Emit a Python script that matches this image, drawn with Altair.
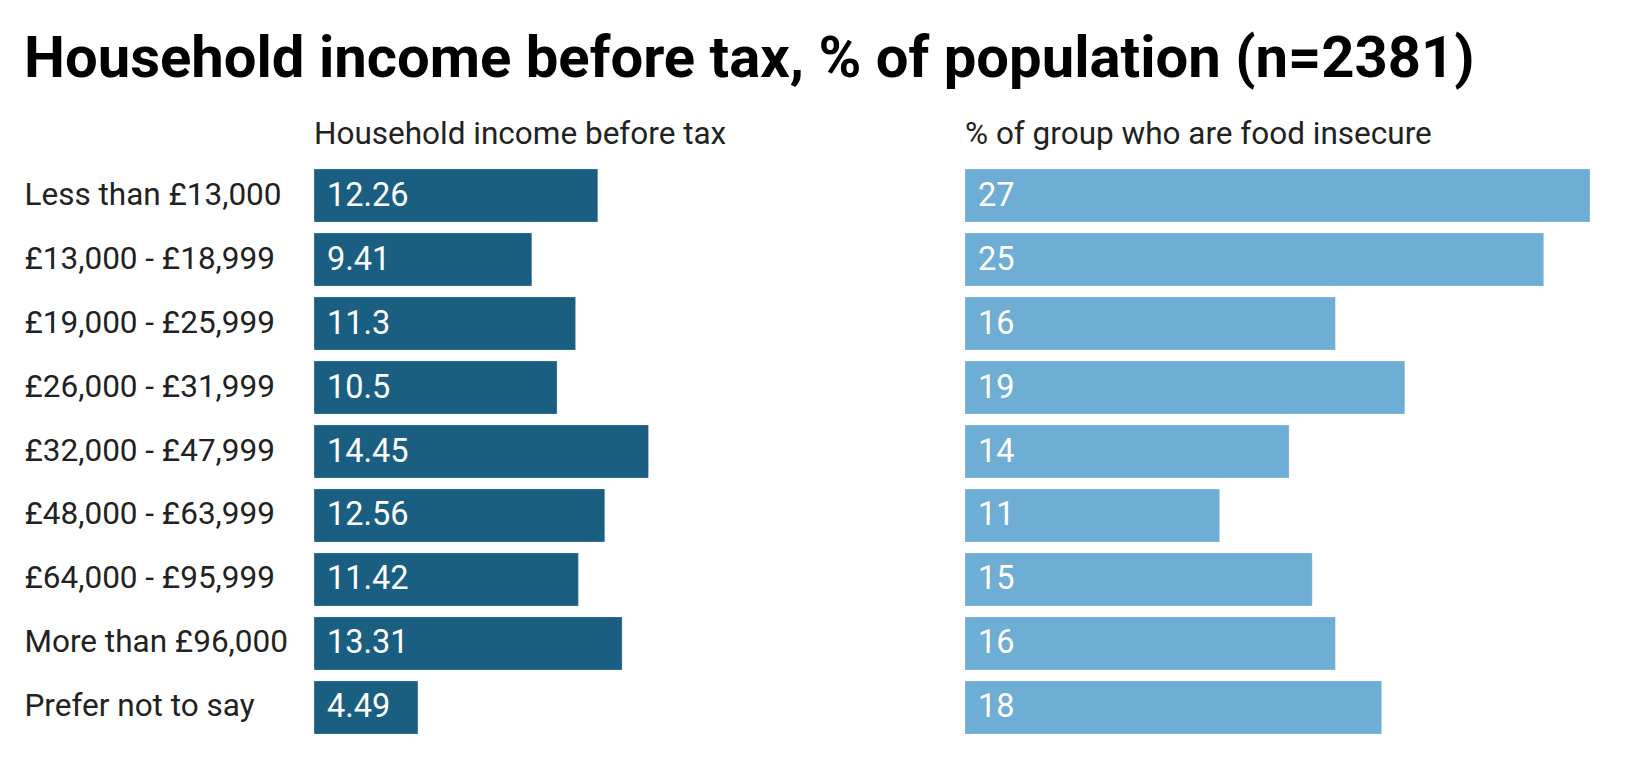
import altair as alt
import pandas as pd

categories = ["Less than £13,000", "£13,000 - £18,999", "£19,000 - £25,999",
              "£26,000 - £31,999", "£32,000 - £47,999", "£48,000 - £63,999",
              "£64,000 - £95,999", "More than £96,000", "Prefer not to say"]
income_share = [12.26, 9.41, 11.3, 10.5, 14.45, 12.56, 11.42, 13.31, 4.49]
food_insecure = [27, 25, 16, 19, 14, 11, 15, 16, 18]

df = pd.DataFrame({"cat": categories, "income": income_share, "food": food_insecure})
df["income_lbl"] = [f"{v:g}" for v in income_share]
df["food_lbl"] = [f"{v:g}" for v in food_insecure]

FONT = "Roboto"
W, H = 625, 565
DOMAIN = [0, 27]


def panel(field, label_field, color, title, show_y):
    yaxis = alt.Axis(title=None, labelAlign="left", labelPadding=290, ticks=False,
                     domain=False, labelFontSize=31.5, labelFont=FONT,
                     labelColor="#222222", labelLimit=400) if show_y else None
    y = alt.Y("cat:N", sort=categories, axis=yaxis,
              scale=alt.Scale(paddingInner=0.17, paddingOuter=0))
    bars = alt.Chart(df).mark_bar(color=color, stroke="#ffffff", strokeWidth=0.6,
                                  strokeOpacity=0.4).encode(
        x=alt.X(f"{field}:Q", scale=alt.Scale(domain=DOMAIN), axis=None),
        y=y,
    )
    text = alt.Chart(df).mark_text(align="left", baseline="middle", dx=13,
                                   fontSize=32.5, font=FONT, color="white").encode(
        x=alt.value(0),
        y=alt.Y("cat:N", sort=categories),
        text=f"{label_field}:N",
    )
    return alt.layer(bars, text).properties(
        width=W, height=H,
        title=alt.TitleParams(title, anchor="start", fontSize=31.5, font=FONT,
                              fontWeight="normal", color="#222222",
                              baseline="alphabetic", offset=-7, frame="group"),
    )


left = panel("income", "income_lbl", "#1a5f82", "Household income before tax", True)
right = panel("food", "food_lbl", "#6eadd4", "% of group who are food insecure", False)

chart = alt.hconcat(left, right, spacing=25).properties(
    title=alt.TitleParams("Household income before tax, % of population (n=2381)",
                          anchor="start", fontSize=58, font=FONT, fontWeight="bold",
                          color="#000000", offset=30, frame="bounds"),
    padding={"left": 24, "top": 31, "right": 20, "bottom": 20},
    background="white",
).configure_view(stroke=None, strokeWidth=0)

chart.save("out.html", embed_options={"renderer": "svg", "actions": False})
